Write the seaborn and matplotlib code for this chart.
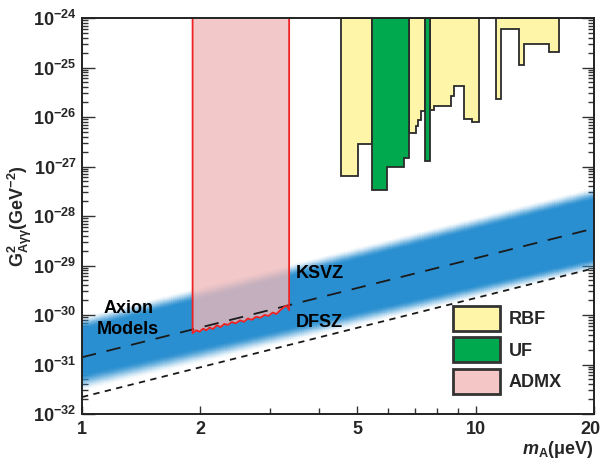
import numpy as np
import matplotlib
matplotlib.use('Agg')
import matplotlib.pyplot as plt
import matplotlib.transforms as mtransforms
import seaborn as sns
import pandas as pd
from matplotlib.colors import ListedColormap
from matplotlib.patches import Patch
from matplotlib.ticker import FixedLocator, FuncFormatter, NullFormatter

# ---------------- data ----------------
# theory lines (G^2 vs m_A)
line_m = [1.0, 20.0]
ksvz_g2 = [1.4e-31, 5.6e-29]
dfsz_g2 = [2.2e-32, 8.8e-30]

# axion-model band edges (at m=1 and m=20)
band_m = [1.0, 20.0]
band_top_outer = [9.5e-31, 3.9e-28]
band_top_inner = [5.0e-31, 2.1e-28]
band_bot_inner = [6.5e-32, 1.4e-29]
band_bot_outer = [2.8e-32, 7.8e-30]

# RBF exclusion regions (bin edges, limits)
rbf_edges = [
    [4.55, 5.04, 5.45],
    [6.78, 7.06, 7.16, 7.26, 7.44],
    [7.66, 7.86, 8.65, 8.80, 9.37, 9.78, 10.2],
    [11.3, 11.59, 12.9, 13.3, 15.4, 16.3],
]
rbf_limits = [
    [6.4e-28, 2.8e-27],
    [4.7e-27, 6.6e-27, 8.5e-27, 1.35e-26],
    [1.4e-26, 1.66e-26, 2.6e-26, 4.3e-26, 9.1e-27, 7.8e-27],
    [2.3e-26, 6.0e-25, 1.1e-25, 3.0e-25, 2.1e-25],
]
# UF exclusion regions
uf_edges = [
    [5.47, 5.95, 6.58, 6.78],
    [7.44, 7.66],
]
uf_limits = [
    [3.4e-28, 1.0e-27, 1.5e-27],
    [1.3e-27],
]
# ADMX limit
admx_m = [1.91, 1.95, 1.99, 2.03, 2.07, 2.11, 2.15, 2.20, 2.25, 2.30, 2.35, 2.40,
          2.46, 2.52, 2.58, 2.64, 2.70, 2.77, 2.84, 2.91, 2.98, 3.05, 3.12, 3.19,
          3.26, 3.31, 3.36]
admx_g2 = [4.3e-31, 4.9e-31, 4.6e-31, 5.3e-31, 4.9e-31, 5.6e-31, 5.2e-31, 6.2e-31,
           5.7e-31, 6.6e-31, 6.3e-31, 7.2e-31, 6.8e-31, 7.8e-31, 7.3e-31, 8.5e-31,
           8.0e-31, 9.2e-31, 8.8e-31, 1.0e-30, 9.6e-31, 1.12e-30, 1.05e-30, 1.25e-30,
           1.45e-30, 1.55e-30, 1.25e-30]

x_ticks = [1, 2, 5, 10, 20]
x_minor = [3, 4, 6, 7, 8, 9]
y_exps = [-32, -31, -30, -29, -28, -27, -26, -25, -24]
G2_TOP = 1e-24

# ---------------- style ----------------
sns.set_theme(style='white')
plt.rcParams['font.family'] = ['Liberation Sans', 'DejaVu Sans']
plt.rcParams['font.weight'] = 'bold'
plt.rcParams['mathtext.fontset'] = 'custom'
plt.rcParams['mathtext.rm'] = 'Liberation Sans:bold'
plt.rcParams['mathtext.bf'] = 'Liberation Sans:bold'
plt.rcParams['mathtext.it'] = 'Liberation Sans:italic:bold'
plt.rcParams['mathtext.sf'] = 'Liberation Sans:bold'

C_BLUE = '#2a8fd0'
C_YEL = '#fff5a8'
C_GRN = '#00a84e'
C_PINK = '#f0b9b9'
C_EDGE = '#2b2b2b'

fig = plt.figure(figsize=(6.01, 4.61), dpi=100)
fig.patch.set_facecolor('white')
ax = fig.add_axes([82 / 601, 47 / 461, 512 / 601, 396 / 461])
ax.set_xscale('log')
ax.set_yscale('log')
ax.set_xlim(1, 20)
ax.set_ylim(1e-32, 1e-24)
ax.set_facecolor('white')

# ---------------- gradient band ----------------
lx = np.linspace(0, np.log10(20), 240)
ly = np.linspace(-32, -26.5, 700)
LX, LY = np.meshgrid(lx, ly)
t = (LX - np.log10(band_m[0])) / (np.log10(band_m[1]) - np.log10(band_m[0]))
def edge(arr):
    a, b = np.log10(arr[0]), np.log10(arr[1])
    return a + t * (b - a)
to, ti, bi, bo = edge(band_top_outer), edge(band_top_inner), edge(band_bot_inner), edge(band_bot_outer)
alpha = np.minimum((to - LY) / (to - ti), (LY - bo) / (bi - bo))
alpha = np.clip(alpha, 0, 1)
alpha = alpha * alpha * (3 - 2 * alpha)
rgb = matplotlib.colors.to_rgb(C_BLUE)
cols = np.zeros((256, 4))
cols[:, :3] = rgb
cols[:, 3] = np.linspace(0, 1, 256)
cmap = ListedColormap(cols)
ax.pcolormesh(10 ** lx, 10 ** ly, alpha, cmap=cmap, vmin=0, vmax=1,
              shading='auto', zorder=1, rasterized=True, linewidth=0)

# ---------------- exclusion regions ----------------
def step_poly(edges, lims):
    xs, ys = [edges[0]], [G2_TOP]
    for i, v in enumerate(lims):
        xs += [edges[i], edges[i + 1]]
        ys += [v, v]
    xs.append(edges[-1]); ys.append(G2_TOP)
    return xs, ys

for e, l in zip(rbf_edges, rbf_limits):
    xs, ys = step_poly(e, l)
    ax.fill(xs, ys, facecolor=C_YEL, edgecolor=C_EDGE, linewidth=1.3, zorder=2)
for e, l in zip(uf_edges, uf_limits):
    xs, ys = step_poly(e, l)
    ax.fill(xs, ys, facecolor=C_GRN, edgecolor=C_EDGE, linewidth=1.3, zorder=2)

# ADMX
ax.fill_between(admx_m, admx_g2, G2_TOP, facecolor=C_PINK, alpha=0.78,
                linewidth=0, zorder=2)

# theory lines
df = pd.DataFrame({'m': line_m + line_m,
                   'g2': ksvz_g2 + dfsz_g2,
                   'model': ['KSVZ', 'KSVZ', 'DFSZ', 'DFSZ']})
sns.lineplot(data=df[df.model == 'KSVZ'], x='m', y='g2', ax=ax, color='#1a1a1a',
             linewidth=1.3, dashes=False, zorder=3, legend=False)
sns.lineplot(data=df[df.model == 'DFSZ'], x='m', y='g2', ax=ax, color='#1a1a1a',
             linewidth=1.3, dashes=False, zorder=3, legend=False)
ax.lines[-2].set_dashes((8, 6))
ax.lines[-1].set_dashes((3.5, 3))

ox = [admx_m[0]] + admx_m + [admx_m[-1]]
oy = [G2_TOP] + admx_g2 + [G2_TOP]
ax.plot(ox, oy, color='#ee2222', linewidth=1.3, zorder=4)

# ---------------- text ----------------
tk = dict(fontsize=13, fontweight='bold', color='black', zorder=5)
ax.text(3.5, 6.8e-30, 'KSVZ', ha='left', va='center', **tk)
ax.text(3.5, 7.2e-31, 'DFSZ', ha='left', va='center', **tk)
ax.text(1.31, 1.38e-30, 'Axion', ha='center', va='center', **tk)
ax.text(1.31, 5.0e-31, 'Models', ha='center', va='center', **tk)

# ---------------- axes ----------------
ax.xaxis.set_major_locator(FixedLocator(x_ticks))
ax.xaxis.set_minor_locator(FixedLocator(x_minor))
ax.xaxis.set_major_formatter(FuncFormatter(lambda v, p: f'{v:g}'))
ax.xaxis.set_minor_formatter(NullFormatter())
ax.yaxis.set_major_locator(FixedLocator([10.0 ** e for e in y_exps]))
ax.yaxis.set_minor_locator(FixedLocator([k * 10.0 ** e for e in y_exps[:-1] for k in range(2, 10)]))
ax.yaxis.set_major_formatter(FuncFormatter(lambda v, p: r'$\mathrm{10^{%d}}$' % round(np.log10(v))))
ax.yaxis.set_minor_formatter(NullFormatter())
ax.tick_params(axis='both', which='both', direction='in', top=False, right=True,
               bottom=True, left=True, color='#333333', width=1)
ax.tick_params(axis='y', which='major', length=9, labelsize=13, pad=4)
ax.tick_params(axis='y', which='minor', length=4.5)
ax.tick_params(axis='x', which='major', length=6, labelsize=13, pad=5)
ax.tick_params(axis='x', which='minor', length=4.5)
for lab in ax.get_xticklabels() + ax.get_yticklabels():
    lab.set_fontweight('bold')
# keep the last x tick label inside the figure
xl = ax.get_xticklabels()
xl[-1].set_horizontalalignment('right')
xl[-1].set_transform(xl[-1].get_transform() +
                     mtransforms.ScaledTranslation(5 / 72, 0, fig.dpi_scale_trans))
for s in ax.spines.values():
    s.set_visible(True)
    s.set_color('#222222')
    s.set_linewidth(1.4)
    s.set_zorder(6)

ax.set_ylabel(r'$\mathrm{G^2_{A\gamma\gamma}}$(GeV$^{\mathrm{-2}}$)', fontsize=13,
              fontweight='bold', labelpad=-1)
ax.set_xlabel(r'$\mathit{m}_{\mathrm{A}}$(μeV)', fontsize=13, fontweight='bold',
              loc='right', labelpad=1)

handles = [Patch(facecolor=C_YEL, edgecolor='#333333', linewidth=2),
           Patch(facecolor=C_GRN, edgecolor='#333333', linewidth=2),
           Patch(facecolor='#f5c6c6', edgecolor='#333333', linewidth=2)]
leg = ax.legend(handles, ['RBF', 'UF', 'ADMX'], loc='upper left',
                bbox_to_anchor=(0.7246, 0.2727), frameon=False, fontsize=13,
                handlelength=2.6, handleheight=1.75, labelspacing=0.35,
                handletextpad=0.5, borderaxespad=0, borderpad=0)
for txt in leg.get_texts():
    txt.set_fontweight('bold')
leg.set_zorder(7)

fig.savefig('out.png', dpi=100, facecolor='white')
